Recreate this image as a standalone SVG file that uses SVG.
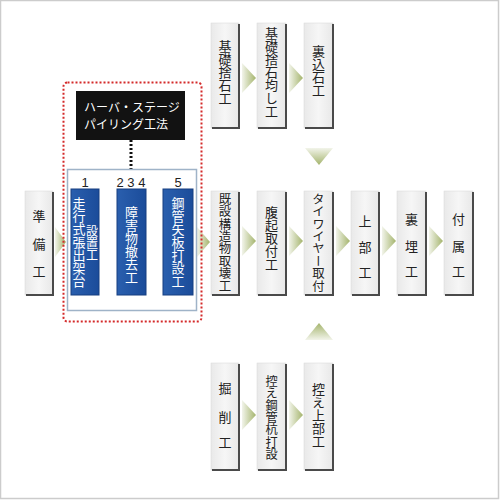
<svg xmlns="http://www.w3.org/2000/svg" width="500" height="500" viewBox="0 0 500 500">
<defs>
<linearGradient id="gbox" x1="0" y1="0" x2="1" y2="0">
<stop offset="0" stop-color="#e9e9e9"/><stop offset="0.5" stop-color="#f6f6f6"/><stop offset="1" stop-color="#e8e8e8"/>
</linearGradient>
<linearGradient id="bbox" x1="0" y1="0" x2="1" y2="0">
<stop offset="0" stop-color="#2a5fae"/><stop offset="1" stop-color="#1b4c9a"/>
</linearGradient>
<linearGradient id="arR" x1="0" y1="0" x2="1" y2="0">
<stop offset="0" stop-color="#f2f4ea"/><stop offset="1" stop-color="#a4b46c"/>
</linearGradient>
<linearGradient id="arD" x1="0" y1="0" x2="0" y2="1">
<stop offset="0" stop-color="#f2f4ea"/><stop offset="1" stop-color="#a4b46c"/>
</linearGradient>
<linearGradient id="arU" x1="0" y1="1" x2="0" y2="0">
<stop offset="0" stop-color="#f2f4ea"/><stop offset="1" stop-color="#a4b46c"/>
</linearGradient>
</defs>
<style>
.g{fill:url(#gbox);stroke:#d8d8d8;stroke-width:0.5}
.sh{fill:none;stroke:#4a4a4a;stroke-width:2}
.b{fill:url(#bbox);stroke:#173f80;stroke-width:1}
.t{font-family:"Noto Sans CJK JP","Noto Sans",sans-serif;font-size:13px;fill:#222}
.v{writing-mode:vertical-rl;text-anchor:middle}
.c{text-anchor:middle;dominant-baseline:central}
.w{fill:#fff}
.ar{fill:url(#arR)}
.num{font-family:"Liberation Sans",Arial,sans-serif;font-size:13px;fill:#222;text-anchor:middle}
</style>
<rect x="0.5" y="0.5" width="498" height="498" fill="#fff" stroke="#cccccc" stroke-width="1.5"/>

<g id="connectors">
<polygon class="ar" points="55,227 66,242 55,257"/>
<polygon class="ar" points="101,227 115,242 101,257"/>
<polygon class="ar" points="148,227 162,242 148,257"/>
<polygon class="ar" points="197,227 210,242 197,257"/>
<polygon class="ar" points="242,226 256,241 242,256"/>
<polygon class="ar" points="289,226 303,241 289,256"/>
<polygon class="ar" points="336,226 350,241 336,256"/>
<polygon class="ar" points="382,226 396,241 382,256"/>
<polygon class="ar" points="429,226 443,241 429,256"/>
<polygon class="ar" points="242,63 256,78 242,93"/>
<polygon class="ar" points="289,63 303,78 289,93"/>
<polygon class="ar" points="242,400 256,415 242,430"/>
<polygon class="ar" points="289,400 303,415 289,430"/>
<polygon fill="url(#arD)" points="305,148 333,148 319,165"/>
<polygon fill="url(#arU)" points="305,340 333,340 319,323"/>
<line x1="131" y1="140" x2="131" y2="169" stroke="#111" stroke-width="3" stroke-dasharray="2,2"/>
</g>

<g id="group-frame">
<rect x="63.5" y="82.5" width="138" height="239" rx="4" fill="none" stroke="#d42a2a" stroke-width="2" stroke-dasharray="2,2"/>
<rect x="67.5" y="169.5" width="129" height="141" fill="#fff" stroke="#9fb3c8" stroke-width="1.5"/>
</g>

<g id="n-harbor">
<rect x="76" y="91" width="109" height="49" fill="#121212"/>
<text class="t w" x="84" y="112" style="font-size:12px">ハーバ・ステージ</text>
<text class="t w" x="84" y="129" style="font-size:12px">パイリング工法</text>
</g>

<g id="n-junbi">
<rect class="g" x="25" y="191" width="28" height="104"/>
<polyline class="sh" points="53,192 53,295 26,295"/>
<text class="t c" x="39" y="215">準</text>
<text class="t c" x="39" y="243">備</text>
<text class="t c" x="39" y="270">工</text>
</g>

<g id="n-1">
<text class="num" x="85" y="187">1</text>
<rect class="b" x="71" y="189" width="28" height="106"/>
<text class="t v w" x="79" y="242.5">走行式張出架台</text>
<text class="t v w" x="92" y="243.5" style="font-size:12px">設置工</text>
</g>

<g id="n-234">
<text class="num" x="131" y="187">2 3 4</text>
<rect class="b" x="117" y="189" width="29" height="106"/>
<text class="t v w" x="131.5" y="245">障害物撤去工</text>
</g>

<g id="n-5">
<text class="num" x="178" y="187">5</text>
<rect class="b" x="163" y="189" width="30" height="106"/>
<text class="t v w" x="178" y="242">鋼管矢板打設工</text>
</g>

<g id="n-kisetsu">
<rect class="g" x="211" y="191" width="28" height="104"/>
<polyline class="sh" points="239,192 239,295 212,295"/>
<text class="t v" x="225" y="242.5" style="font-size:12.4px">既設構造物取壊工</text>
</g>

<g id="n-haraokoshi">
<rect class="g" x="257" y="191" width="29" height="104"/>
<polyline class="sh" points="286,192 286,295 258,295"/>
<text class="t v" x="271.5" y="238.5">腹起取付工</text>
</g>

<g id="n-tie">
<rect class="g" x="304" y="191" width="29" height="104"/>
<polyline class="sh" points="333,192 333,295 305,295"/>
<text class="t v" x="318.5" y="242.5" style="font-size:12.4px">タイワイヤー取付</text>
</g>

<g id="n-jobu">
<rect class="g" x="351" y="191" width="28" height="104"/>
<polyline class="sh" points="379,192 379,295 352,295"/>
<text class="t c" x="365" y="220">上</text>
<text class="t c" x="365" y="246">部</text>
<text class="t c" x="365" y="271">工</text>
</g>

<g id="n-uraume">
<rect class="g" x="397" y="191" width="29" height="104"/>
<polyline class="sh" points="426,192 426,295 398,295"/>
<text class="t c" x="411.5" y="218">裏</text>
<text class="t c" x="411.5" y="245">埋</text>
<text class="t c" x="411.5" y="270">工</text>
</g>

<g id="n-fuzoku">
<rect class="g" x="444" y="191" width="29" height="104"/>
<polyline class="sh" points="473,192 473,295 445,295"/>
<text class="t c" x="458.5" y="218">付</text>
<text class="t c" x="458.5" y="245">属</text>
<text class="t c" x="458.5" y="270">工</text>
</g>

<g id="n-kisosute">
<rect class="g" x="211" y="23" width="28" height="105"/>
<polyline class="sh" points="239,24 239,128 212,128"/>
<text class="t v" x="225" y="72.5">基礎捨石工</text>
</g>

<g id="n-kisonarashi">
<rect class="g" x="257" y="23" width="29" height="105"/>
<polyline class="sh" points="286,24 286,128 258,128"/>
<text class="t v" x="271.5" y="72">基礎捨石均し工</text>
</g>

<g id="n-uragome">
<rect class="g" x="304" y="23" width="29" height="105"/>
<polyline class="sh" points="333,24 333,128 305,128"/>
<text class="t v" x="318.5" y="71">裏込石工</text>
</g>

<g id="n-kussaku">
<rect class="g" x="211" y="363" width="28" height="107"/>
<polyline class="sh" points="239,364 239,470 212,470"/>
<text class="t c" x="225" y="387">掘</text>
<text class="t c" x="225" y="416">削</text>
<text class="t c" x="225" y="441">工</text>
</g>

<g id="n-hikaekui">
<rect class="g" x="257" y="363" width="29" height="107"/>
<polyline class="sh" points="286,364 286,470 258,470"/>
<text class="t v" x="271.5" y="417.5" style="font-size:12.2px">控え鋼管杭打設</text>
</g>

<g id="n-hikaejobu">
<rect class="g" x="304" y="363" width="29" height="107"/>
<polyline class="sh" points="333,364 333,470 305,470"/>
<text class="t v" x="318.5" y="415">控え上部工</text>
</g>
</svg>
